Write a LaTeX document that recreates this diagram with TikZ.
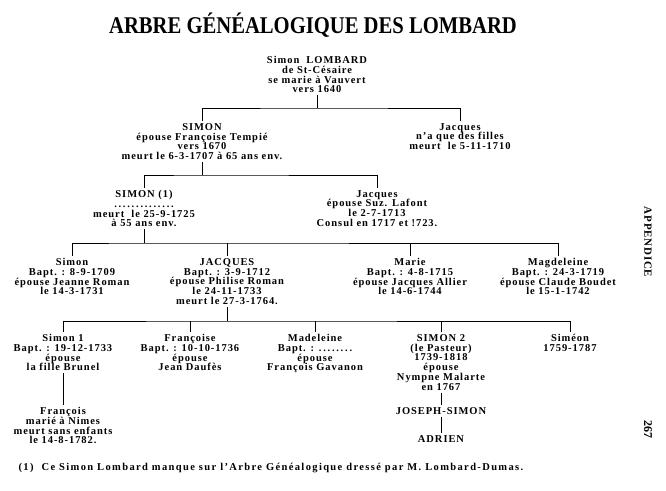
\documentclass[tikz,border=0pt]{standalone}
\usepackage{fontspec}
\setmainfont{Liberation Serif}
\usetikzlibrary{positioning}
\newcommand{\lombfont}{\fontsize{10.5}{9.8}\selectfont\bfseries\addfontfeatures{LetterSpace=9}}

\begin{document}
\begin{tikzpicture}[x=1pt,y=-1pt,line width=0.6pt,
  person/.style={align=center,inner sep=2pt,font=\lombfont}]
\useasboundingbox (0,0) rectangle (666,490);
\node[anchor=base] (title) at (313,33)
  {\fontsize{24}{24}\selectfont\bfseries\scalebox{0.86}[1]{ARBRE GÉNÉALOGIQUE DES LOMBARD}};
\path (317,54) node[person,anchor=north] (SL) {Simon~~LOMBARD\\de St-Césaire\\se marie à Vauvert\\vers 1640}
(317,108) coordinate (bar0)
(202,121) node[person,anchor=north] (S) {SIMON\\épouse Françoise Tempié\\vers 1670\\meurt le 6-3-1707 à 65 ans env.}
(460,121) node[person,anchor=north] (J) {Jacques\\n'a que des filles\\meurt~~le 5-11-1710}
(202,175) coordinate (bar1)
(144,188) node[person,anchor=north] (S1) {SIMON (1)\\.\,.\,.\,.\,.\,.\,.\,.\,.\,.\,.\,.\,.\,.\\meurt~~le 25-9-1725\\à 55 ans env.}
(377,188) node[person,anchor=north] (J1) {Jacques\\épouse Suz. Lafont\\le 2-7-1713\\Consul en 1717 et !723.}
(144,243) coordinate (bar2)
(72,256) node[person,anchor=north] (Sim) {Simon\\Bapt. : 8-9-1709\\épouse Jeanne Roman\\le 14-3-1731}
(227,256) node[person,anchor=north] (JQ) {JACQUES\\Bapt. : 3-9-1712\\épouse Philise Roman\\le 24-11-1733\\meurt le 27-3-1764.}
(410,256) node[person,anchor=north] (Ma) {Marie\\Bapt. : 4-8-1715\\épouse Jacques Allier\\le 14-6-1744}
(558,256) node[person,anchor=north] (Mg) {Magdeleine\\Bapt. : 24-3-1719\\épouse Claude Boudet\\le 15-1-1742}
(227,321) coordinate (bar3)
(63,332) node[person,anchor=north] (S1b) {Simon 1\\Bapt. : 19-12-1733\\épouse\\la fille Brunel}
(190,332) node[person,anchor=north] (Fr) {Françoise\\Bapt. : 10-10-1736\\épouse\\Jean Daufès}
(315,332) node[person,anchor=north] (Md) {Madeleine\\Bapt. : .\,.\,.\,.\,.\,.\,.\,.\\épouse\\François Gavanon}
(441,332) node[person,anchor=north] (S2) {SIMON 2\\(le Pasteur)\\1739-1818\\épouse\\Nympne Malarte\\en 1767}
(570,332) node[person,anchor=north] (Si) {Siméon\\1759-1787}
(63,405) node[person,anchor=north] (Fo) {François\\marié à Nimes\\meurt sans enfants\\le 14-8-1782.}
(441,405) node[person,anchor=north] (JS) {JOSEPH-SIMON}
(441,433) node[person,anchor=north] (Ad) {ADRIEN};
\node[anchor=base west,font=\lombfont\addfontfeatures{LetterSpace=13}] (note) at (15,470)
  {(1)~~Ce Simon Lombard manque sur l'Arbre Généalogique dressé par M. Lombard-Dumas.};
\node[rotate=-90,font=\fontsize{11}{11}\selectfont\bfseries\addfontfeatures{LetterSpace=7}] (app) at (648,242) {APPENDICE};
\node[rotate=-90,font=\fontsize{12}{12}\selectfont\bfseries] (page) at (648,429) {267};
% generation lines
\draw (SL) -- (bar0);
\draw (S.north) |- (bar0) -| (J.north);
\draw (S) -- (bar1);
\draw (S1.north) |- (bar1) -| (J1.north);
\draw (S1) -- (bar2);
\draw (Sim.north) |- (bar2) -| (Mg.north);
\draw (JQ) -- (JQ |- bar2);
\draw (Ma) -- (Ma |- bar2);
\draw (JQ) -- (bar3);
\draw (S1b.north) |- (bar3) -| (Si.north);
\draw (Fr) -- (Fr |- bar3);
\draw (Md) -- (Md |- bar3);
\draw (S2) -- (S2 |- bar3);
\draw (S1b) -- (Fo);
\draw (S2) -- (JS);
\draw (JS) -- (Ad);
\end{tikzpicture}
\end{document}
